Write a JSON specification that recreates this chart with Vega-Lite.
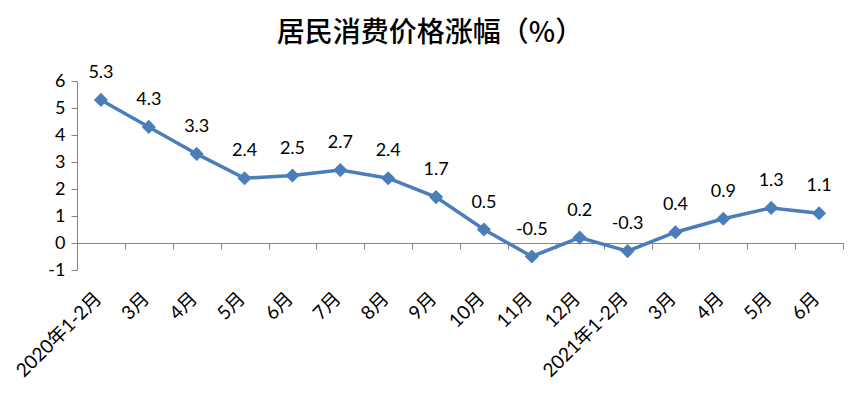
{
  "$schema": "https://vega.github.io/schema/vega-lite/v6.json",
  "width": 766,
  "height": 189,
  "autosize": "none",
  "padding": {"left": 77, "top": 81, "right": 24, "bottom": 126},
  "background": "white",
  "title": {
    "text": "居民消费价格涨幅（%）",
    "font": "Noto Sans CJK SC",
    "fontSize": 28,
    "fontWeight": 500,
    "color": "#000000",
    "anchor": "middle",
    "dx": -30,
    "offset": 16
  },
  "data": {
    "values": [
      {"period": "2020年1-2月", "value": 5.3},
      {"period": "2020年3月", "value": 4.3},
      {"period": "2020年4月", "value": 3.3},
      {"period": "2020年5月", "value": 2.4},
      {"period": "2020年6月", "value": 2.5},
      {"period": "2020年7月", "value": 2.7},
      {"period": "2020年8月", "value": 2.4},
      {"period": "2020年9月", "value": 1.7},
      {"period": "2020年10月", "value": 0.5},
      {"period": "2020年11月", "value": -0.5},
      {"period": "2020年12月", "value": 0.2},
      {"period": "2021年1-2月", "value": -0.3},
      {"period": "2021年3月", "value": 0.4},
      {"period": "2021年4月", "value": 0.9},
      {"period": "2021年5月", "value": 1.3},
      {"period": "2021年6月", "value": 1.1}
    ]
  },
  "encoding": {
    "x": {
      "field": "period",
      "type": "nominal",
      "sort": null,
      "bandPosition": 0.5,
      "scale": {"type": "band", "paddingInner": 0, "paddingOuter": 0},
      "axis": {
        "title": null,
        "orient": "bottom",
        "offset": -27,
        "labelExpr": "isString(datum.value) ? (indexof(datum.value, '1-2') >= 0 ? datum.value : slice(datum.value, 5)) : ''",
        "labelAngle": -45,
        "labelAlign": "right",
        "labelBaseline": "middle",
        "labelPadding": 46,
        "labelOffset": -3,
        "labelFont": "Lato, Noto Sans CJK SC",
        "labelFontSize": 19,
        "labelColor": "#000000",
        "tickBand": "extent",
        "tickSize": 6,
        "tickColor": "#868686",
        "domainColor": "#868686",
        "grid": false
      }
    },
    "y": {
      "field": "value",
      "type": "quantitative",
      "scale": {"domain": [-1, 6], "nice": false, "zero": false},
      "axis": {
        "title": null,
        "values": [-1, 0, 1, 2, 3, 4, 5, 6],
        "labelExpr": "toString(datum.value)",
        "grid": false,
        "labelFont": "Lato",
        "labelFontSize": 18,
        "labelColor": "#000000",
        "labelPadding": 6,
        "tickSize": 6,
        "tickColor": "#868686",
        "domainColor": "#868686"
      }
    }
  },
  "layer": [
    {
      "mark": {"type": "line", "color": "#4a7ebb", "strokeWidth": 3.5}
    },
    {
      "mark": {"type": "point", "shape": "diamond", "filled": true, "color": "#4a7ebb", "size": 200, "opacity": 1}
    },
    {
      "mark": {"type": "text", "dy": -27, "font": "Lato", "fontSize": 18, "color": "#000000"},
      "encoding": {"text": {"field": "value", "type": "nominal"}}
    }
  ],
  "config": {"view": {"stroke": null}}
}
